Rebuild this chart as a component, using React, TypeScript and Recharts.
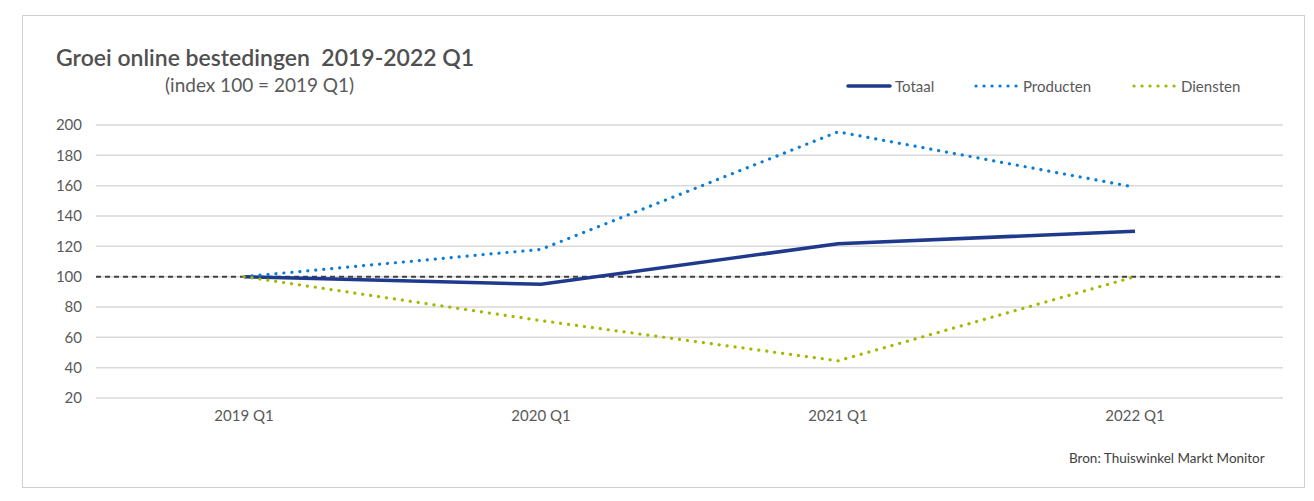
import React from "react";
import { LineChart, Line, XAxis, YAxis, CartesianGrid, ReferenceLine } from "recharts";

const categories = ["2019 Q1", "2020 Q1", "2021 Q1", "2022 Q1"];
const totaal = [100, 95, 121.7, 130];
const producten = [100, 118, 195.5, 159];
const diensten = [100, 71, 44.5, 100];
const yTicks = [20, 40, 60, 80, 100, 120, 140, 160, 180, 200];

const seriesNames = ["Totaal", "Producten", "Diensten"];
const seriesColors = ["#1F3A8C", "#0A7DD6", "#A3B800"];
const seriesDotted = [false, true, true];

const data = categories.map((c, i) => ({
  name: c,
  Totaal: totaal[i],
  Producten: producten[i],
  Diensten: diensten[i],
}));

const FONT = "Lato, 'Noto Sans', sans-serif";
const TEXT = "#595959";
const DOTS = "0.1 7.9";

const legendLeft = [846, 974, 1132];

function LegendBox() {
  return (
    <>
      {seriesNames.map((name, i) => (
        <div
          key={name}
          style={{ position: "absolute", left: legendLeft[i], top: 76, height: 20, display: "flex", alignItems: "center", fontFamily: FONT }}
        >
          <svg width={46} height={10} style={{ display: "block" }}>
            <line
              x1={2}
              y1={5}
              x2={44}
              y2={5}
              stroke={seriesColors[i]}
              strokeWidth={seriesDotted[i] ? 3.2 : 3.5}
              strokeLinecap="round"
              strokeDasharray={seriesDotted[i] ? DOTS : undefined}
            />
          </svg>
          <span style={{ fontSize: 15, lineHeight: 1.2, color: TEXT, marginLeft: 3 }}>{name}</span>
        </div>
      ))}
    </>
  );
}

export default function App() {
  return (
    <div style={{ position: "absolute", left: 0, top: 0, width: 1314, height: 501, background: "#fff", fontFamily: FONT }}>
      <div style={{ position: "absolute", left: 22, top: 15, width: 1283, height: 473, border: "1px solid #d0d0d0", boxSizing: "border-box" }} />
      <div style={{ position: "absolute", left: 56, top: 44, fontSize: 23, lineHeight: 1.2, fontWeight: 600, color: "#505050", whiteSpace: "pre" }}>
        {"Groei online bestedingen  2019-2022 Q1"}
      </div>
      <div style={{ position: "absolute", left: 165, top: 74, fontSize: 19, lineHeight: 1.2, color: TEXT, whiteSpace: "pre" }}>
        (index 100 = 2019 Q1)
      </div>
      <LegendBox />
      <div style={{ position: "absolute", left: 1069, top: 450, fontSize: 13.5, lineHeight: 1.2, color: "#404040", whiteSpace: "pre" }}>
        Bron: Thuiswinkel Markt Monitor
      </div>
      <LineChart width={1314} height={501} data={data} margin={{ top: 125, right: 31, bottom: 73, left: 0 }} style={{ position: "absolute", left: 0, top: 0 }}>
        <CartesianGrid vertical={false} stroke="#d9d9d9" strokeWidth={1.5} />
        <XAxis
          dataKey="name"
          height={30}
          padding={{ left: 148, right: 148 }}
          axisLine={false}
          tickLine={false}
          tickMargin={6}
          tick={{ fill: TEXT, fontSize: 15, fontFamily: FONT }}
          interval={0}
        />
        <YAxis
          width={96}
          domain={[20, 200]}
          ticks={yTicks}
          axisLine={false}
          tickLine={false}
          tickMargin={8}
          tick={{ fill: TEXT, fontSize: 15, fontFamily: FONT }}
        />
        <ReferenceLine y={100} stroke="#404040" strokeWidth={2} strokeDasharray="5 4" />
        <Line type="linear" dataKey="Totaal" stroke={seriesColors[0]} strokeWidth={3.5} dot={false} isAnimationActive={false} />
        <Line type="linear" dataKey="Producten" stroke={seriesColors[1]} strokeWidth={3.2} strokeLinecap="round" strokeDasharray={DOTS} dot={false} isAnimationActive={false} />
        <Line type="linear" dataKey="Diensten" stroke={seriesColors[2]} strokeWidth={3.2} strokeLinecap="round" strokeDasharray={DOTS} dot={false} isAnimationActive={false} />
      </LineChart>
    </div>
  );
}
